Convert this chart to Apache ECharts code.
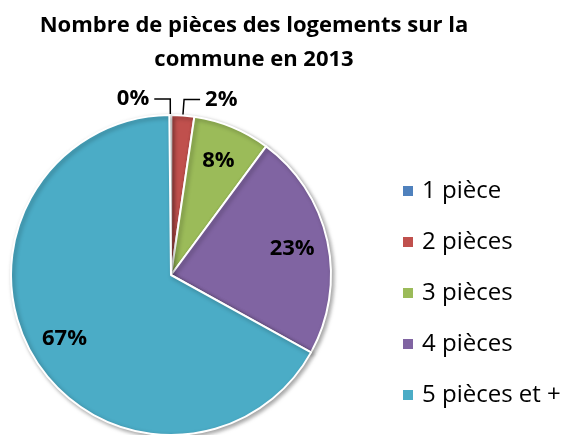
<!DOCTYPE html>
<html lang="fr">
<head>
    <meta charset="UTF-8">
    <title>Nombre de pièces</title>
    <style>
        * {
            margin: 0px;
            padding: 0px;
        }

        #main {
            width: 573px;
            height: 435px;
            background-color: #ffffff;
        }
    </style>
</head>
<body>
<div id="main"></div>
<script src="https://cdn.jsdelivr.net/npm/echarts@6/dist/echarts.min.js"></script>
<script type="text/javascript">
    // données
    var categories = ['1 pièce', '2 pièces', '3 pièces', '4 pièces', '5 pièces et +'];
    var values = [0.2, 2.3, 7.8, 22.9, 66.8];
    var colors = ['#4F81BD', '#C0504D', '#9BBB59', '#8064A2', '#4BACC6'];
    var outsideLabels = [true, true, false, false, false];

    var font = 'Open Sans';
    var total = values.reduce(function (a, b) { return a + b; }, 0);

    function pct(v) {
        return Math.round(v / total * 100) + '%';
    }

    var mainData = categories.map(function (name, i) {
        return {
            name: name,
            value: values[i],
            itemStyle: {color: colors[i]},
            label: {show: outsideLabels[i]},
            labelLine: {show: outsideLabels[i]}
        };
    });

    // anneau invisible pour placer les étiquettes intérieures plus près du bord
    var ringData = categories.map(function (name, i) {
        return {
            name: name,
            value: values[i],
            label: {show: !outsideLabels[i]}
        };
    });

    var myChart = echarts.init(document.getElementById('main'));
    myChart.setOption({
        animation: false,
        title: {
            text: 'Nombre de pièces des logements sur la\ncommune en 2013',
            left: 249,
            top: 4,
            textAlign: 'center',
            textStyle: {
                fontFamily: font,
                fontWeight: 'bold',
                fontSize: 22,
                lineHeight: 34,
                color: '#000'
            }
        },
        legend: {
            orient: 'vertical',
            left: 396,
            top: 172,
            itemWidth: 12,
            itemHeight: 12,
            itemGap: 23,
            icon: 'rect',
            data: categories,
            textStyle: {
                fontFamily: font,
                fontSize: 24,
                lineHeight: 28,
                color: '#000',
                padding: [0, 0, 0, 3]
            }
        },
        series: [
            {
                name: 'logements',
                type: 'pie',
                center: [171, 275],
                radius: 160,
                startAngle: 90.6,
                clockwise: true,
                avoidLabelOverlap: false,
                data: mainData,
                itemStyle: {
                    borderColor: '#ffffff',
                    borderWidth: 2,
                    shadowBlur: 4,
                    shadowOffsetX: 2,
                    shadowOffsetY: 2,
                    shadowColor: 'rgba(0, 0, 0, 0.35)'
                },
                label: {
                    position: 'outside',
                    formatter: function (p) { return pct(p.value); },
                    fontFamily: font,
                    fontWeight: 'bold',
                    fontSize: 22,
                    color: '#000'
                },
                labelLine: {
                    length: 16,
                    length2: 16,
                    lineStyle: {color: '#000', width: 1.5}
                },
                emphasis: {disabled: true}
            },
            {
                name: 'étiquettes',
                type: 'pie',
                center: [171, 275],
                radius: [82, 160],
                startAngle: 90.6,
                clockwise: true,
                silent: true,
                data: ringData,
                itemStyle: {color: 'rgba(0,0,0,0)'},
                label: {
                    position: 'inside',
                    formatter: function (p) { return pct(p.value); },
                    fontFamily: font,
                    fontWeight: 'bold',
                    fontSize: 22,
                    color: '#000'
                },
                labelLine: {show: false},
                emphasis: {disabled: true}
            }
        ]
    });
</script>
</body>
</html>
